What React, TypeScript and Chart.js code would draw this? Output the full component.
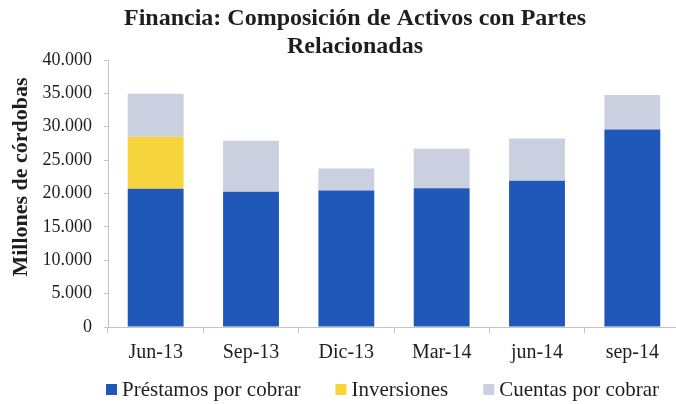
import React, { useEffect, useRef } from "react";
import { Chart, registerables } from "chart.js";

Chart.register(...registerables);

const categories = ["Jun-13", "Sep-13", "Dic-13", "Mar-14", "jun-14", "sep-14"];
const prestamos = [20700, 20250, 20450, 20800, 21900, 29600];
const inversiones = [7800, 0, 0, 0, 0, 0];
const cuentas = [6450, 7650, 3300, 5900, 6350, 5150];
const yTicks = [0, 5000, 10000, 15000, 20000, 25000, 30000, 35000, 40000];
const seriesNames = ["Préstamos por cobrar", "Inversiones", "Cuentas por cobrar"];
const seriesColors = ["#1F58B9", "#F6D43C", "#CBD0E0"];
const titleLines = ["Financia: Composición de Activos con Partes", "Relacionadas"];
const yTitle = "Millones de córdobas";

const FONT = "'Liberation Serif', 'DejaVu Serif', serif";
const TEXT = "#1e1e1e";

function fmt(v: number): string {
  return String(v).replace(/\B(?=(\d{3})+(?!\d))/g, ".");
}

const overlay = {
  id: "overlay",
  afterDraw(chart: any) {
    const ctx = chart.ctx as CanvasRenderingContext2D;
    ctx.save();
    ctx.fillStyle = TEXT;
    // Title
    ctx.font = `bold 24px ${FONT}`;
    ctx.textAlign = "center";
    ctx.textBaseline = "alphabetic";
    titleLines.forEach((line, i) => ctx.fillText(line, 355, 25 + i * 28));
    // Y axis title
    ctx.save();
    ctx.translate(27, 177);
    ctx.rotate(-Math.PI / 2);
    ctx.font = `bold 22px ${FONT}`;
    ctx.textAlign = "center";
    ctx.fillText(yTitle, 0, 0);
    ctx.restore();
    // Legend
    ctx.font = `21px ${FONT}`;
    ctx.textAlign = "left";
    let x = 106;
    chart.data.datasets.forEach((ds: any) => {
      ctx.fillStyle = ds.backgroundColor;
      ctx.fillRect(x, 384, 11, 11);
      ctx.fillStyle = TEXT;
      ctx.fillText(ds.label, x + 16, 396);
      x = x + 16 + ctx.measureText(ds.label).width + 35;
    });
    ctx.restore();
  },
};

export default function App() {
  const ref = useRef<HTMLCanvasElement>(null);
  useEffect(() => {
    document.body.style.margin = "0";
    const ctx = ref.current!.getContext("2d")!;
    const values = [prestamos, inversiones, cuentas];
    const chart = new Chart(ctx, {
      type: "bar",
      data: {
        labels: categories,
        datasets: seriesNames.map((name, i) => ({
          label: name,
          data: values[i],
          backgroundColor: seriesColors[i],
          barPercentage: 0.586,
          categoryPercentage: 1,
        })),
      },
      options: {
        animation: false,
        responsive: false,
        maintainAspectRatio: false,
        layout: { padding: { left: 0, right: 2, top: 60, bottom: 0 } },
        plugins: {
          title: { display: false },
          legend: { display: false },
          tooltip: { enabled: false },
        },
        scales: {
          x: {
            stacked: true,
            afterFit: (s: any) => {
              s.height = 77;
            },
            grid: { display: true, drawOnChartArea: false, drawTicks: true, tickLength: 6, color: "#C4C4C4", offset: true },
            border: { display: true, color: "#C4C4C4" },
            ticks: { font: { family: FONT, size: 20 }, color: TEXT, padding: 8, maxRotation: 0 },
          },
          y: {
            stacked: true,
            min: 0,
            max: 40000,
            afterBuildTicks: (s: any) => {
              s.ticks = yTicks.map((v) => ({ value: v }));
            },
            afterFit: (s: any) => {
              s.width = 108;
            },
            grid: { display: true, drawOnChartArea: false, drawTicks: true, tickLength: 4, color: "#C4C4C4" },
            border: { display: true, color: "#C4C4C4" },
            ticks: {
              font: { family: FONT, size: 18 },
              color: TEXT,
              padding: 12,
              callback: (v: any) => fmt(Number(v)),
            },
          },
        },
      },
      plugins: [overlay],
    });
    return () => chart.destroy();
  }, []);
  return (
    <div style={{ position: "fixed", left: 0, top: 0, width: 676, height: 404, overflow: "hidden", background: "#fff" }}>
      <canvas ref={ref} width={682} height={404} style={{ display: "block" }} />
    </div>
  );
}
